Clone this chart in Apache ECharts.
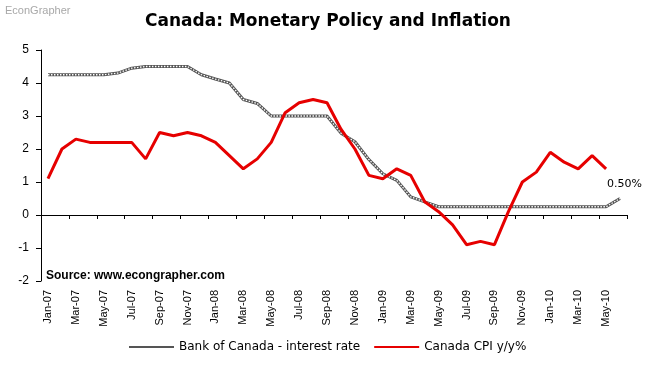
<!DOCTYPE html>
<html>
<head>
<meta charset="utf-8">
<script src="https://cdn.jsdelivr.net/npm/echarts@6/dist/echarts.min.js"></script>
<style>html,body{margin:0;padding:0;background:#fff;}#c{width:656px;height:365px;}</style>
</head>
<body>
<div id="c"></div>
<script>
const categories = ['Jan-07','Feb-07','Mar-07','Apr-07','May-07','Jun-07','Jul-07','Aug-07','Sep-07','Oct-07','Nov-07','Dec-07',
  'Jan-08','Feb-08','Mar-08','Apr-08','May-08','Jun-08','Jul-08','Aug-08','Sep-08','Oct-08','Nov-08','Dec-08',
  'Jan-09','Feb-09','Mar-09','Apr-09','May-09','Jun-09','Jul-09','Aug-09','Sep-09','Oct-09','Nov-09','Dec-09',
  'Jan-10','Feb-10','Mar-10','Apr-10','May-10','Jun-10'];
const rateValues = [4.25,4.25,4.25,4.25,4.25,4.3,4.45,4.5,4.5,4.5,4.5,4.25,
  4.12,4.0,3.5,3.38,3.0,3.0,3.0,3.0,3.0,2.48,2.22,1.68,
  1.25,1.05,0.55,0.4,0.25,0.25,0.25,0.25,0.25,0.25,0.25,0.25,
  0.25,0.25,0.25,0.25,0.25,0.5];
const cpiValues = [1.1,2.0,2.3,2.2,2.2,2.2,2.2,1.7,2.5,2.4,2.5,2.4,
  2.2,1.8,1.4,1.7,2.2,3.1,3.4,3.5,3.4,2.6,2.0,1.2,
  1.1,1.4,1.2,0.4,0.1,-0.3,-0.9,-0.8,-0.9,0.1,1.0,1.3,
  1.9,1.6,1.4,1.8,1.4];
const seriesNames = ['Bank of Canada - interest rate','Canada CPI y/y%'];
const yTicks = {min:-2, max:5, interval:1};
const lastRateLabel = '0.50%';

const chart = echarts.init(document.getElementById('c'), null, {renderer:'canvas'});
const baseGraphic = [
  {type:'text', left:5, top:5, style:{text:'EconGrapher', font:'11px "Liberation Sans", Arial', fill:'#a8a8a8'}},
  {type:'text', left:46, top:270, style:{text:'Source: www.econgrapher.com', font:'bold 12px "Liberation Sans", Arial', fill:'#000'}}
];
chart.setOption({
  animation:false,
  backgroundColor:'#fff',
  title:{text:'Canada: Monetary Policy and Inflation', left:'center', top:8,
    textStyle:{fontFamily:'DejaVu Sans', fontWeight:'bold', fontSize:17, color:'#000'}},
  graphic:baseGraphic,
  legend:{bottom:7, left:123, itemWidth:45, itemHeight:8, itemGap:13,
    itemStyle:{opacity:0},
    textStyle:{fontFamily:'DejaVu Sans', fontSize:12, color:'#000'},
    data:seriesNames},
  grid:{left:41, right:29, top:50, bottom:84, containLabel:false},
  xAxis:[
    {type:'category', data:categories, boundaryGap:true, position:'bottom',
     axisLine:{onZero:true, lineStyle:{color:'#000', width:1}},
     axisTick:{show:true, interval:1, length:4, lineStyle:{color:'#000'}},
     axisLabel:{show:false}, splitLine:{show:false}},
    {type:'category', data:categories, boundaryGap:true, position:'bottom',
     axisLine:{show:false, onZero:false}, axisTick:{show:false},
     axisLabel:{show:true, interval:1, rotate:90, margin:9, fontFamily:'"Liberation Sans", Arial', fontSize:11, color:'#000'},
     splitLine:{show:false}}
  ],
  yAxis:{type:'value', min:yTicks.min, max:yTicks.max, interval:yTicks.interval,
    axisLine:{show:true, lineStyle:{color:'#000'}},
    axisTick:{show:true, length:5, lineStyle:{color:'#000'}},
    axisLabel:{margin:12, fontFamily:'"Liberation Sans", Arial', fontSize:12, color:'#000'},
    splitLine:{show:false}},
  series:[
    {name:seriesNames[0], type:'line', xAxisIndex:0, data:rateValues, symbol:'none',
     lineStyle:{color:'#555555', width:3}, itemStyle:{color:'#555555'}, z:3},
    {name:'rate-texture', type:'line', xAxisIndex:0, data:rateValues, symbol:'none', silent:true,
     lineStyle:{color:'#ffffff', width:1.3, type:[1.5,1.5]}, z:3},
    {name:seriesNames[1], type:'line', xAxisIndex:0, data:cpiValues, symbol:'none',
     lineStyle:{color:'#e60000', width:3}, itemStyle:{color:'#e60000'}, z:4}
  ]
});
const lastIdx = rateValues.length - 1;
const p = chart.convertToPixel({xAxisIndex:0, yAxisIndex:0}, [categories[lastIdx], rateValues[lastIdx]]);
chart.setOption({graphic: baseGraphic.concat([
  {type:'text', x:p[0]-13, y:p[1]-20, style:{text:lastRateLabel, font:'11px "DejaVu Sans"', fill:'#000'}}
])});
</script>
</body>
</html>
